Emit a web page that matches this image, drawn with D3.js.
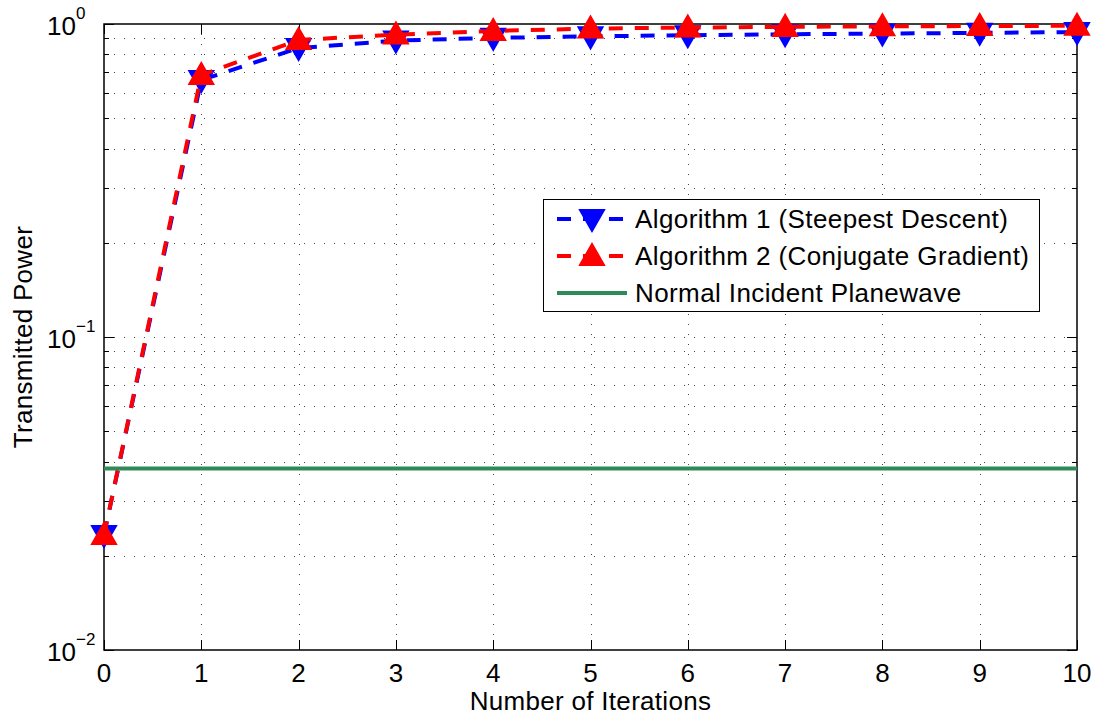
<!DOCTYPE html>
<html>
<head>
<meta charset="utf-8">
<script src="https://cdn.jsdelivr.net/npm/d3@7"></script>
<style>
  body { margin: 0; background: #fff; }
  text { font-family: "Liberation Sans", Arial, sans-serif; }
</style>
</head>
<body>
<div id="viz"></div>
<script>
const iterations = [0, 1, 2, 3, 4, 5, 6, 7, 8, 9, 10];
const steepest = [0.0233, 0.662, 0.838, 0.885, 0.903, 0.913, 0.921, 0.927, 0.932, 0.937, 0.942];
const conjugate = [0.0233, 0.687, 0.889, 0.925, 0.950, 0.967, 0.974, 0.979, 0.983, 0.985, 0.987];
const planewave = 0.038;
const legendLabels = ["Algorithm 1 (Steepest Descent)", "Algorithm 2 (Conjugate Gradient)", "Normal Incident Planewave"];
const yDecades = [-2, -1, 0];

const W = 1098, H = 719;
const margin = { left: 104, right: 21, top: 24, bottom: 69 };
const iw = W - margin.left - margin.right;
const ih = H - margin.top - margin.bottom;
const fs = 25;

const svg = d3.select("#viz").append("svg")
  .attr("width", W)
  .attr("height", H);

const x = d3.scaleLinear().domain([0, 10]).range([0, iw]);
const y = d3.scaleLog().domain([0.01, 1]).range([ih, 0]);

const g = svg.append("g").attr("transform", `translate(${margin.left},${margin.top})`);

// grid lines, major and minor
let minorVals = [];
for (let d = -2; d < 0; d++) {
  for (let k = 2; k <= 9; k++) minorVals.push(k * Math.pow(10, d));
}
const majorVals = yDecades.map(d => Math.pow(10, d));

const grid = g.append("g").attr("stroke", "#444").attr("stroke-width", 1).attr("stroke-dasharray", "1 9");
grid.selectAll(".gy")
  .data(minorVals.concat(majorVals.slice(1, 2)))
  .join("line")
  .attr("x1", 0).attr("x2", iw)
  .attr("y1", d => Math.round(y(d)) + 0.5).attr("y2", d => Math.round(y(d)) + 0.5);
grid.selectAll(".gx")
  .data(iterations.slice(1, -1))
  .join("line")
  .attr("y1", 0).attr("y2", ih)
  .attr("x1", d => Math.round(x(d)) + 0.5).attr("x2", d => Math.round(x(d)) + 0.5);

// ticks (inward on all four sides)
const ticks = g.append("g").attr("stroke", "#000").attr("stroke-width", 1);
iterations.forEach(v => {
  const px = Math.round(x(v)) + 0.5;
  ticks.append("line").attr("x1", px).attr("x2", px).attr("y1", ih).attr("y2", ih - 10);
  ticks.append("line").attr("x1", px).attr("x2", px).attr("y1", 0).attr("y2", 10);
});
majorVals.forEach(v => {
  const py = Math.round(y(v)) + 0.5;
  ticks.append("line").attr("x1", 0).attr("x2", 10).attr("y1", py).attr("y2", py);
  ticks.append("line").attr("x1", iw).attr("x2", iw - 10).attr("y1", py).attr("y2", py);
});
minorVals.forEach(v => {
  const py = Math.round(y(v)) + 0.5;
  ticks.append("line").attr("x1", 0).attr("x2", 5).attr("y1", py).attr("y2", py);
  ticks.append("line").attr("x1", iw).attr("x2", iw - 5).attr("y1", py).attr("y2", py);
});

// frame
g.append("rect")
  .attr("x", 0).attr("y", 0).attr("width", iw).attr("height", ih)
  .attr("fill", "none").attr("stroke", "#000").attr("stroke-width", 1.5);

// tick labels
g.selectAll(".xl")
  .data(iterations)
  .join("text")
  .attr("x", d => x(d))
  .attr("y", ih + 32)
  .attr("text-anchor", "middle")
  .attr("font-size", fs + 1)
  .text(d => d);

const yl = g.selectAll(".yl")
  .data(yDecades)
  .join("text")
  .attr("x", -28)
  .attr("y", d => y(Math.pow(10, d)) + 11)
  .attr("font-size", fs + 1);
yl.append("tspan").text("10");
yl.append("tspan").attr("dy", -16).attr("font-size", 17).text(d => d === 0 ? "0" : "\u2212" + (-d));
yl.each(function () {
  // the "10" ends at x=-28, exponent follows it
  const w = this.querySelector("tspan").getComputedTextLength();
  d3.select(this).attr("x", -28 - w);
});

// axis titles
svg.append("text")
  .attr("x", margin.left + iw / 2)
  .attr("y", H - 9)
  .attr("text-anchor", "middle")
  .attr("font-size", fs + 1)
  .attr("letter-spacing", 0.3)
  .text("Number of Iterations");
svg.append("text")
  .attr("transform", `translate(32,${margin.top + ih / 2}) rotate(-90)`)
  .attr("text-anchor", "middle")
  .attr("font-size", fs + 1)
  .attr("letter-spacing", 0.3)
  .text("Transmitted Power");

// series
const line = d3.line().x((d, i) => x(iterations[i])).y(d => y(d));
const tri = 12;
function triPath(cx, cy, up) {
  const s = up ? -1 : 1;
  return `M${cx},${cy + s * tri}L${cx - tri},${cy - s * tri * 0.75}L${cx + tri},${cy - s * tri * 0.75}Z`;
}

function drawSeries(vals, color, up) {
  g.append("path")
    .datum(vals)
    .attr("d", line)
    .attr("fill", "none")
    .attr("stroke", color)
    .attr("stroke-width", 4)
    .attr("stroke-dasharray", "14 12");
  g.selectAll(null)
    .data(vals)
    .join("path")
    .attr("d", (d, i) => triPath(x(iterations[i]), y(d), up))
    .attr("fill", color)
    .attr("stroke", color)
    .attr("stroke-width", 2)
    .attr("stroke-linejoin", "miter");
}
drawSeries(steepest, "#0000ff", false);
drawSeries(conjugate, "#ff0000", true);

g.append("line")
  .attr("x1", 0).attr("x2", iw)
  .attr("y1", y(planewave)).attr("y2", y(planewave))
  .attr("stroke", "#2e8b57")
  .attr("stroke-width", 4);

// legend
const lg = svg.append("g").attr("transform", "translate(543,199)");
lg.append("rect")
  .attr("x", 0.5).attr("y", 0.5).attr("width", 496).attr("height", 112)
  .attr("fill", "#fff").attr("stroke", "#000").attr("stroke-width", 1);
const legendColors = ["#0000ff", "#ff0000", "#2e8b57"];
legendLabels.forEach((lab, i) => {
  const ly = 20 + i * 37;
  if (i < 2) {
    lg.append("line")
      .attr("x1", 14).attr("x2", 84).attr("y1", ly).attr("y2", ly)
      .attr("stroke", legendColors[i]).attr("stroke-width", 4)
      .attr("stroke-dasharray", "14 12");
    lg.append("path")
      .attr("d", triPath(49, ly, i === 1))
      .attr("fill", legendColors[i]).attr("stroke", legendColors[i]).attr("stroke-width", 2);
  } else {
    lg.append("line")
      .attr("x1", 14).attr("x2", 84).attr("y1", ly).attr("y2", ly)
      .attr("stroke", legendColors[i]).attr("stroke-width", 4);
  }
  lg.append("text")
    .attr("x", 92).attr("y", ly + 9)
    .attr("font-size", fs + 1)
    .attr("letter-spacing", 0.4)
    .text(lab);
});
</script>
</body>
</html>
